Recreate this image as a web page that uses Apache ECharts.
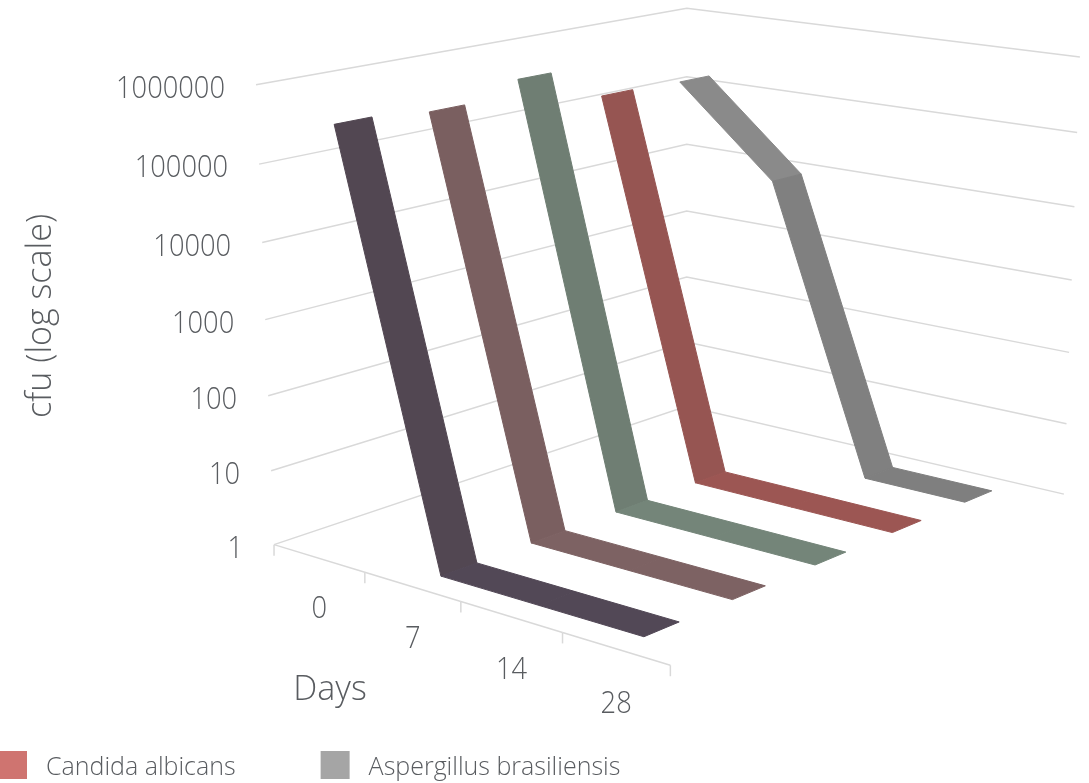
<!DOCTYPE html>
<html><head><meta charset="utf-8">
<style>html,body{margin:0;padding:0;background:#fff}#c{width:1089px;height:783px}</style>
<script src="https://cdn.jsdelivr.net/npm/echarts@6/dist/echarts.min.js"></script>
</head><body><div id="c"></div>
<script>
// ---- data ----
const days = ['0', '7', '14', '28'];
const valueTicks = [1, 10, 100, 1000, 10000, 100000, 1000000];
const tickLabels = ['1', '10', '100', '1000', '10000', '100000', '1000000'];
const seriesNames = ['Series 1', 'Series 2', 'Series 3', 'Candida albicans', 'Aspergillus brasiliensis'];
const series1 = [339000, 1, 1, 1];
const series2 = [282000, 1, 1, 1];
const series3 = [447000, 1, 1, 1];
const candida = [158000, 1, 1, 1];
const aspergillus = [148000, 9300, 1, 1];

// ---- style ----
const legendColors = ['#5f5560', '#a58384', '#93a89b', '#cf7470', '#a5a5a5'];
const segmentColors = [
  ['#524752', '#524856', '#524856'],
  ['#7a5f60', '#7d6263', '#7d6263'],
  ['#6f7e73', '#748579', '#748579'],
  ['#965552', '#9c5653', '#9c5653'],
  ['#8a8a8a', '#808080', '#7f7f7f']
];
const FONT = '"Open Sans"';
const TEXT = '#595c60';
const GRID = '#d9d9d9';

// camera: (category share, log10 value, depth share) -> page position on the hidden axes
const P = [323.7234368, -4.8110007, 524.7949934, 274.0276222, 48.5540687, -77.2611688, -71.8241278, 544.6288556, -0.1083228, -0.0070630, 0.1634503];
function project(X, Y, Z) {
  const w = P[8] * X + P[9] * Y + P[10] * Z + 1;
  return [(P[0] * X + P[1] * Y + P[2] * Z + P[3]) / w, (P[4] * X + P[5] * Y + P[6] * Z + P[7]) / w];
}
const catX = i => (i + 0.5) / days.length;
const seriesZ = s => (s + 0.5) / seriesNames.length;
const HALF = 0.039;

function tickText(text, x, y, align) {
  return { type: 'text', x, y, scaleX: 0.88, style: { text, x: 0, y: 0, align, verticalAlign: 'middle', fontFamily: FONT, fontWeight: 300, fontSize: 31, fill: TEXT } };
}

function ribbonSeries(name, s, values) {
  return {
    type: 'custom', name, coordinateSystem: 'cartesian2d', silent: true, z: 10 - s,
    itemStyle: { color: legendColors[s] },
    data: values.map((v, i) => [i, v]),
    encode: { x: 0, y: 1 },
    renderItem(params, api) {
      const i = params.dataIndex;
      if (i >= values.length - 1) return null;
      const y0 = Math.log10(values[i]), y1 = Math.log10(values[i + 1]), z = seriesZ(s);
      const corners = [[catX(i), y0, z - HALF], [catX(i), y0, z + HALF], [catX(i + 1), y1, z + HALF], [catX(i + 1), y1, z - HALF]];
      return {
        type: 'polygon',
        shape: { points: corners.map(c => api.coord(project(c[0], c[1], c[2]))) },
        style: { fill: segmentColors[s][i], stroke: segmentColors[s][i], lineWidth: 1, lineJoin: 'bevel' }
      };
    }
  };
}

const wallSeries = {
  type: 'custom', name: 'walls', coordinateSystem: 'cartesian2d', silent: true, z: 1,
  data: valueTicks.map((v, i) => [i, v]),
  encode: { x: 0, y: 1 },
  renderItem(params, api) {
    const i = params.dataIndex, y = Math.log10(valueTicks[i]);
    const pts = [project(0, y, 0), project(0, y, 1), project(1, y, 1)].map(p => api.coord(p));
    const lab = api.coord(project(0, y, 0));
    return { type: 'group', children: [
      { type: 'polyline', shape: { points: pts }, style: { fill: 'none', stroke: GRID, lineWidth: 1.5 } },
      tickText(tickLabels[i], lab[0] - 31, lab[1] + 4.5, 'right')
    ] };
  }
};

const floorSeries = {
  type: 'custom', name: 'floor', coordinateSystem: 'cartesian2d', silent: true, z: 1,
  data: days.concat(['']).map((d, i) => [i, 1]),
  encode: { x: 0, y: 1 },
  renderItem(params, api) {
    const i = params.dataIndex, X = i / days.length;
    const a = api.coord(project(X, 0, 0));
    const children = [{ type: 'line', shape: { x1: a[0], y1: a[1], x2: a[0], y2: a[1] + 11 }, style: { stroke: GRID, lineWidth: 1.5 } }];
    if (i < days.length) {
      const b = api.coord(project((i + 1) / days.length, 0, 0));
      const c = api.coord(project(catX(i), 0, 0));
      children.push({ type: 'line', shape: { x1: a[0], y1: a[1], x2: b[0], y2: b[1] }, style: { stroke: GRID, lineWidth: 1.5 } });
      children.push(tickText(days[i], c[0] + 0.5, c[1] + 50.5 + i * 1.6, 'center'));
    }
    return { type: 'group', children };
  }
};

const chart = echarts.init(document.getElementById('c'), null, { renderer: 'canvas' });
chart.setOption({
  animation: false,
  backgroundColor: '#fff',
  grid: { left: 0, right: 0, top: 0, bottom: 0 },
  xAxis: { type: 'value', min: 0, max: 1089, show: false },
  yAxis: { type: 'value', min: 0, max: 783, inverse: true, show: false },
  legend: {
    left: -2, top: 751, padding: 0, orient: 'horizontal', itemWidth: 29, itemHeight: 28, itemGap: 85,
    selectedMode: false, icon: 'rect',
    data: ['Candida albicans', 'Aspergillus brasiliensis'],
    formatter: '{a|{name}}',
    textStyle: { fontFamily: FONT, fontWeight: 300, fontSize: 25, color: TEXT,
      rich: { a: { fontFamily: FONT, fontWeight: 300, fontSize: 25, color: TEXT, padding: [6, 0, 0, 14] } } }
  },
  graphic: [
    { type: 'text', rotation: Math.PI / 2, x: 41, y: 316, style: { text: 'cfu (log scale)', align: 'center', verticalAlign: 'middle', fontFamily: FONT, fontWeight: 300, fontSize: 34, fill: TEXT } },
    { type: 'text', x: 330, y: 690, style: { text: 'Days', align: 'center', verticalAlign: 'middle', fontFamily: FONT, fontWeight: 300, fontSize: 34, fill: TEXT } }
  ],
  series: [wallSeries, floorSeries,
    ribbonSeries(seriesNames[4], 4, aspergillus),
    ribbonSeries(seriesNames[3], 3, candida),
    ribbonSeries(seriesNames[2], 2, series3),
    ribbonSeries(seriesNames[1], 1, series2),
    ribbonSeries(seriesNames[0], 0, series1)]
});
</script></body></html>
